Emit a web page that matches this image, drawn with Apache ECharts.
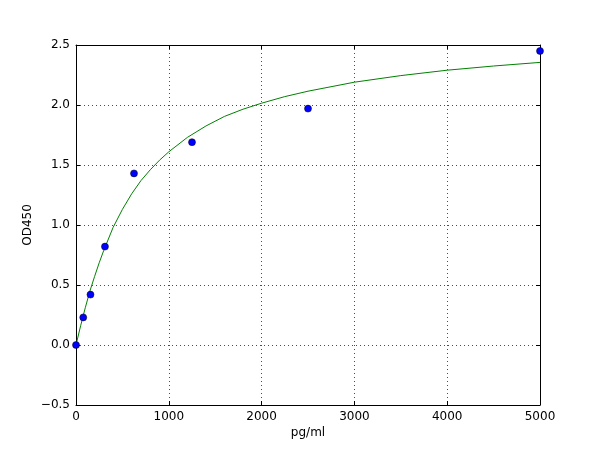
<!DOCTYPE html>
<html>
<head>
<meta charset="utf-8">
<script src="https://cdn.jsdelivr.net/npm/echarts@6/dist/echarts.min.js"></script>
<style>html,body{margin:0;padding:0;background:#fff}#c{width:600px;height:450px}</style>
</head>
<body>
<div id="c"></div>
<script>
// Measured standards
const concentrations = [0, 78, 156, 312, 625, 1250, 2500, 5000];
const odValues = [0.0, 0.23, 0.42, 0.82, 1.43, 1.69, 1.97, 2.45];
// Fitted curve
const curveX = [0, 50, 100, 150, 200, 250, 300, 400, 500, 600, 700, 800, 900, 1000, 1200, 1400, 1600, 1800, 2000, 2250, 2500, 3000, 3500, 4000, 4500, 5000];
const curveY = [0.0, 0.16, 0.31, 0.45, 0.57, 0.685, 0.79, 0.98, 1.13, 1.26, 1.37, 1.46, 1.54, 1.61, 1.73, 1.825, 1.905, 1.965, 2.015, 2.07, 2.115, 2.19, 2.245, 2.29, 2.325, 2.355];

const font = 'DejaVu Sans';
const minus = v => String(v).replace('-', '\u2212');
const chart = echarts.init(document.getElementById('c'));
const common = {
  axisLine: {show: true, onZero: false, lineStyle: {color: '#000', width: 1}},
  axisTick: {show: true, inside: true, length: 4, lineStyle: {color: '#000'}},
};
chart.setOption({
  animation: false,
  grid: {left: 76, right: 60, top: 45, bottom: 45},
  xAxis: [
    Object.assign({
      type: 'value', min: 0, max: 5000, interval: 1000, position: 'bottom',
      name: 'pg/ml', nameLocation: 'middle', nameGap: 22, nameMoveOverlap: false,
      nameTextStyle: {fontFamily: font, fontSize: 12, color: '#000'},
      axisLabel: {fontFamily: font, fontSize: 12, color: '#000', margin: 6, formatter: v => minus(v)},
      splitLine: {show: true, lineStyle: {color: '#000', type: [1, 3], width: 1, opacity: 0.7}}
    }, common),
    Object.assign({
      type: 'value', min: 0, max: 5000, interval: 1000, position: 'top',
      axisLabel: {show: false}, splitLine: {show: false}
    }, common)
  ],
  yAxis: [
    Object.assign({
      type: 'value', min: -0.5, max: 2.5, interval: 0.5, position: 'left',
      name: 'OD450', nameLocation: 'middle', nameGap: 42, nameMoveOverlap: false,
      nameTextStyle: {fontFamily: font, fontSize: 12, color: '#000'},
      axisLabel: {fontFamily: font, fontSize: 12, color: '#000', margin: 6, formatter: v => minus(v.toFixed(1))},
      splitLine: {show: true, lineStyle: {color: '#000', type: [1, 3], width: 1, opacity: 0.7}}
    }, common),
    Object.assign({
      type: 'value', min: -0.5, max: 2.5, interval: 0.5, position: 'right',
      axisLabel: {show: false}, splitLine: {show: false}
    }, common)
  ],
  series: [
    {
      type: 'line', xAxisIndex: 0, yAxisIndex: 0,
      data: curveX.map((x, i) => [x, curveY[i]]),
      smooth: false, showSymbol: false, symbol: 'none',
      lineStyle: {color: '#008000', width: 1}, z: 2
    },
    {
      type: 'scatter', xAxisIndex: 0, yAxisIndex: 0,
      data: concentrations.map((x, i) => [x, odValues[i]]),
      symbol: 'circle', symbolSize: 7,
      itemStyle: {color: '#0000ff', borderColor: '#000', borderWidth: 0.5, opacity: 1},
      clip: false, z: 3
    }
  ]
});
</script>
</body>
</html>
